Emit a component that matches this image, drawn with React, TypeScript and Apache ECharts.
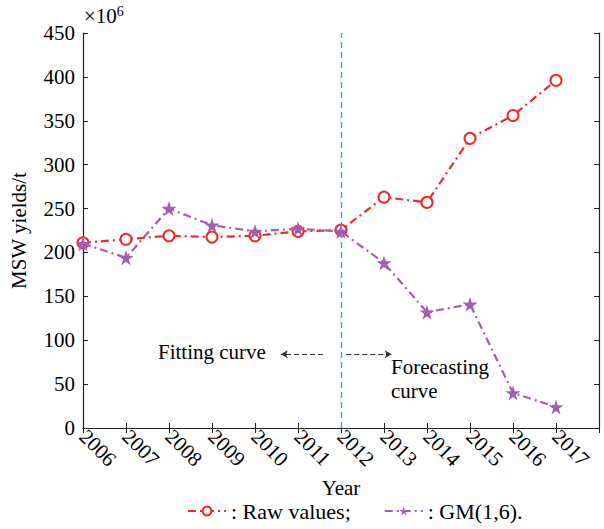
import React, { useEffect, useRef } from "react";
import * as echarts from "echarts";

const years = [2006, 2007, 2008, 2009, 2010, 2011, 2012, 2013, 2014, 2015, 2016, 2017];
const rawValues = [211, 215, 219, 217.5, 219, 224, 225.5, 263, 257, 330, 356, 396];
const gmValues = [210, 194, 250, 231, 224, 227, 224, 188, 132, 141, 40, 24];
const yTicks = [0, 50, 100, 150, 200, 250, 300, 350, 400, 450];

const FONT = "Liberation Serif";
const FS = 21;
const STAR = "path://M50,0 L61,35 L98,35 L68,57 L79,91 L50,70 L21,91 L32,57 L2,35 L39,35 Z";

export default function App() {
  const ref = useRef<HTMLDivElement>(null);
  useEffect(() => {
    const chart = echarts.init(ref.current!, null, { renderer: "svg" });
    const axisCommon = {
      axisLine: { lineStyle: { color: "#222", width: 1.2 } },
      axisTick: { inside: true, length: 5, lineStyle: { color: "#222" } },
      splitLine: { show: false },
    };
    chart.setOption({
      animation: false,
      textStyle: { fontFamily: FONT },
      grid: { left: 81, top: 33, right: 5, bottom: 101 },
      xAxis: [
        {
          type: "value",
          min: 2006,
          max: 2018,
          interval: 1,
          ...axisCommon,
          name: "Year",
          nameLocation: "middle",
          nameGap: 49,
          nameTextStyle: { fontFamily: FONT, fontSize: FS, color: "#000" },
          axisLabel: {
            rotate: -45,
            fontFamily: FONT,
            fontSize: FS,
            color: "#000",
            margin: 5,
            formatter: (v: number) => (years.includes(v) ? String(v) : ""),
          },
        },
        {
          type: "value",
          min: 2006,
          max: 2018,
          interval: 1,
          position: "top",
          ...axisCommon,
          axisLabel: { show: false },
        },
      ],
      yAxis: [
        {
          type: "value",
          min: 0,
          max: 450,
          interval: 50,
          ...axisCommon,
          name: "MSW yields/t",
          nameLocation: "middle",
          nameGap: 54,
          nameTextStyle: { fontFamily: FONT, fontSize: FS, color: "#000" },
          axisLabel: {
            fontFamily: FONT,
            fontSize: FS,
            color: "#000",
            margin: 8,
            formatter: (v: number) => (yTicks.includes(v) ? String(v) : ""),
          },
        },
        {
          type: "value",
          min: 0,
          max: 450,
          interval: 50,
          position: "right",
          ...axisCommon,
          axisLabel: { show: false },
        },
      ],
      legend: {
        bottom: 2,
        left: 182,
        itemWidth: 38,
        itemHeight: 11,
        itemGap: 33,
        textStyle: { fontFamily: FONT, fontSize: 22, color: "#000" },
        formatter: (n: string) => ": " + n,
        data: ["Raw values;", "GM(1,6)."],
      },
      graphic: [
        {
          type: "text",
          left: 84,
          top: 4,
          style: {
            text: "×10{s|6}",
            fontFamily: FONT,
            fontSize: FS,
            fill: "#000",
            rich: { s: { fontSize: 14, verticalAlign: "top", padding: [0, 0, 9, 0], fontFamily: FONT } },
          },
        },
        {
          type: "text",
          left: 158,
          top: 341,
          style: { text: "Fitting curve", fontFamily: FONT, fontSize: FS, fill: "#000" },
        },
        {
          type: "text",
          left: 391,
          top: 355,
          style: { text: "Forecasting\ncurve", fontFamily: FONT, fontSize: FS, lineHeight: 24, fill: "#000" },
        },
      ],
      series: [
        {
          name: "Raw values;",
          type: "line",
          data: years.map((y, i) => [y, rawValues[i]]),
          symbol: "emptyCircle",
          symbolSize: 11,
          itemStyle: { color: "#f02a2a", borderWidth: 1.6 },
          lineStyle: { color: "#f02a2a", width: 2.2, type: [8, 4, 2, 4] },
          z: 3,
          markLine: {
            silent: true,
            symbol: ["none", "none"],
            label: { show: false },
            emphasis: { disabled: true },
            lineStyle: { color: "#3f9de0", type: [6, 4], width: 1.4, opacity: 1 },
            data: [{ xAxis: 2012 }],
          },
        },
        {
          name: "GM(1,6).",
          type: "line",
          data: years.map((y, i) => [y, gmValues[i]]),
          symbol: STAR,
          symbolSize: 15,
          itemStyle: { color: "#a35db3" },
          lineStyle: { color: "#a35db3", width: 2.2, type: [8, 4, 2, 4] },
          z: 4,
          markLine: {
            silent: true,
            symbol: ["none", "arrow"],
            symbolSize: [6, 7],
            label: { show: false },
            lineStyle: { color: "#333", type: [5, 3], width: 1 },
            data: [
              [{ coord: [2011.58, 84] }, { coord: [2010.6, 84] }],
              [{ coord: [2012.12, 84] }, { coord: [2013.18, 84] }],
            ],
          },
        },
      ],
    });
    return () => chart.dispose();
  }, []);
  return <div ref={ref} style={{ width: 604, height: 529, position: "absolute", left: 0, top: 0 }} />;
}
